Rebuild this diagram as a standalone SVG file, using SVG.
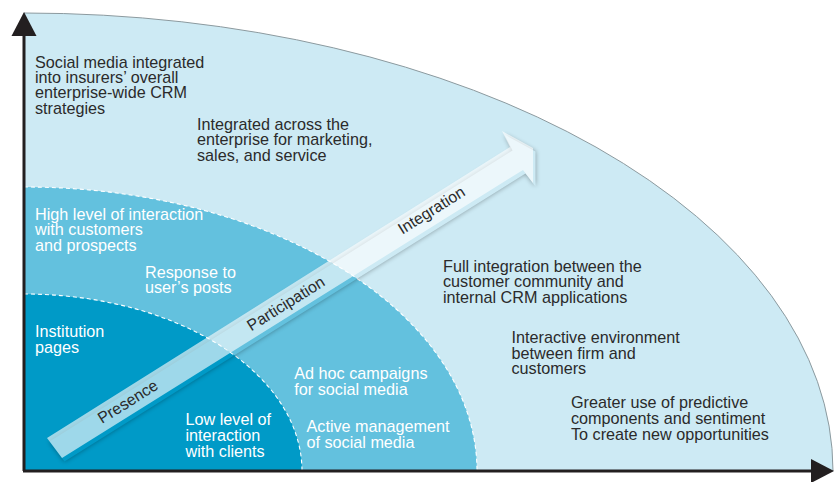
<svg xmlns="http://www.w3.org/2000/svg" width="837" height="482" viewBox="0 0 837 482">
<style>
  .lbl{font-family:"Liberation Sans","Helvetica",Arial,sans-serif;font-size:16.2px;}
  .dark{fill:#2b2b2b;}
  .light{fill:#ffffff;}
  .stage{font-family:"Liberation Sans","Helvetica",Arial,sans-serif;font-size:16px;fill:#2b2b2b;text-anchor:middle;}
  .dash{fill:none;stroke:#ffffff;stroke-width:1.1;stroke-dasharray:4 3;}
  .axis{stroke:#231f20;stroke-width:3;fill:none;}
  .head{fill:#231f20;}
</style>
<defs>
  <filter id="blur" x="-10%" y="-10%" width="120%" height="120%">
    <feGaussianBlur stdDeviation="2.5"/>
  </filter>
  <mask id="noShaft" maskUnits="userSpaceOnUse" x="0" y="0" width="837" height="482">
    <rect x="0" y="0" width="837" height="482" fill="#fff"/>
    <polygon points="47,438 510,147 502,131 533,148 533,183 523,170 62,458" fill="#000"/>
  </mask>
</defs>

<g id="outer-region">
  <path d="M24,471 L24,13 A809,458 0 0 1 833,471 Z" fill="#cdeaf4" stroke="#8c9a9f" stroke-width="1"/>
</g>
<g id="middle-region">
  <path d="M24,471 L24,187 A453,284 0 0 1 477,471 Z" fill="#63c1de"/>
  <path class="dash" d="M24,187 A453,284 0 0 1 477,471"/>
</g>
<g id="inner-region">
  <path d="M24,471 L24,294 A278,177 0 0 1 302,471 Z" fill="#009ac7"/>
  <path class="dash" d="M24,294 A278,177 0 0 1 302,471"/>
</g>

<g id="connectors">
  <g id="axes">
    <line class="axis" x1="24" y1="30" x2="24" y2="471"/>
    <line class="axis" x1="23" y1="471" x2="815" y2="471"/>
    <polygon class="head" points="24,12 11.5,36 36.5,36"/>
    <polygon class="head" points="834,471 811,459 811,483"/>
  </g>
  <g id="progress-arrow">
    <polygon points="47,438 510,147 502,131 533,148 533,183 523,170 62,458" transform="translate(2.5,3.5)" fill="#000" opacity="0.35" filter="url(#blur)" mask="url(#noShaft)"/>
    <polygon points="47,438 510,147 502,131 533,148 533,183 523,170 62,458" fill="#ffffff" fill-opacity="0.62"/>
  </g>
</g>

<g id="stage-presence">
  <text class="stage" transform="translate(130.7,406.2) rotate(-32)">Presence</text>
</g>
<g id="stage-participation">
  <text class="stage" transform="translate(288.7,308.2) rotate(-32)">Participation</text>
</g>
<g id="stage-integration">
  <text class="stage" transform="translate(434.2,214.8) rotate(-32)">Integration</text>
</g>

<g id="note-social-media">
  <text class="lbl dark" x="35" y="67.5"><tspan x="35">Social media integrated</tspan><tspan x="35" dy="15.4">into insurers’ overall</tspan><tspan x="35" dy="15.4">enterprise-wide CRM</tspan><tspan x="35" dy="15.4">strategies</tspan></text>
</g>
<g id="note-integrated-across">
  <text class="lbl dark" x="197" y="130"><tspan x="197">Integrated across the</tspan><tspan x="197" dy="15.4">enterprise for marketing,</tspan><tspan x="197" dy="15.4">sales, and service</tspan></text>
</g>
<g id="note-high-level">
  <text class="lbl light" x="35" y="219.5"><tspan x="35">High level of interaction</tspan><tspan x="35" dy="15.7">with customers</tspan><tspan x="35" dy="15.7">and prospects</tspan></text>
</g>
<g id="note-response">
  <text class="lbl light" x="145" y="277.7"><tspan x="145">Response to</tspan><tspan x="145" dy="15.6">user’s posts</tspan></text>
</g>
<g id="note-institution">
  <text class="lbl light" x="35" y="336.7"><tspan x="35">Institution</tspan><tspan x="35" dy="16">pages</tspan></text>
</g>
<g id="note-low-level">
  <text class="lbl light" x="185.5" y="425"><tspan x="185.5">Low level of</tspan><tspan x="185.5" dy="15.8">interaction</tspan><tspan x="185.5" dy="15.8">with clients</tspan></text>
</g>
<g id="note-ad-hoc">
  <text class="lbl light" x="294.3" y="379.3"><tspan x="294.3">Ad hoc campaigns</tspan><tspan x="294.3" dy="15.7">for social media</tspan></text>
</g>
<g id="note-active">
  <text class="lbl light" x="306.5" y="431.7"><tspan x="306.5">Active management</tspan><tspan x="306.5" dy="16">of social media</tspan></text>
</g>
<g id="note-full-integration">
  <text class="lbl dark" x="443" y="271.7"><tspan x="443">Full integration between the</tspan><tspan x="443" dy="15.5">customer community and</tspan><tspan x="443" dy="15.5">internal CRM applications</tspan></text>
</g>
<g id="note-interactive">
  <text class="lbl dark" x="511.5" y="343.3"><tspan x="511.5">Interactive environment</tspan><tspan x="511.5" dy="15.5">between firm and</tspan><tspan x="511.5" dy="15.5">customers</tspan></text>
</g>
<g id="note-greater-use">
  <text class="lbl dark" x="571" y="408.3"><tspan x="571">Greater use of predictive</tspan><tspan x="571" dy="15.8">components and sentiment</tspan><tspan x="571" dy="15.8">To create new opportunities</tspan></text>
</g>
</svg>
